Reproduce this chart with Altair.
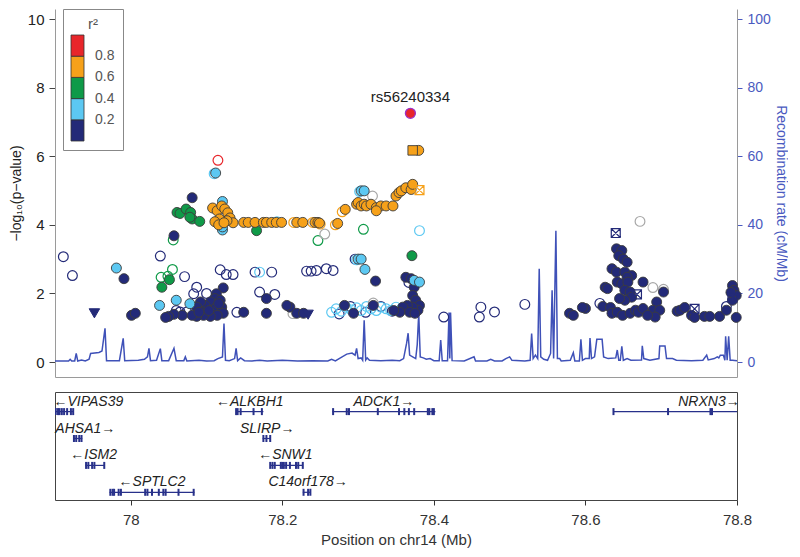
import altair as alt
import pandas as pd

# ---------------- recombination rate (position Mb, cM/Mb) ----------------
recomb = [(77.900,0.3),(77.918,0.3),(77.920,0.8),(77.922,0.3),(77.926,0.3),(77.928,2.5),(77.930,0.3),(77.935,0.6),(77.940,0.3),(77.945,0.8),(77.947,2.5),(77.958,2.8),(77.962,3.2),(77.966,9.8),(77.968,0.4),(77.985,0.4),(77.990,6.9),(77.992,0.4),(78.010,0.5),(78.018,0.8),(78.022,1.5),(78.024,4.0),(78.026,0.4),(78.034,0.5),(78.039,3.9),(78.041,0.4),(78.050,0.4),(78.057,4.0),(78.060,0.4),(78.070,0.4),(78.072,1.5),(78.074,0.3),(78.090,0.5),(78.100,0.3),(78.110,0.4),(78.115,1.0),(78.121,1.5),(78.123,11.2),(78.125,0.5),(78.130,0.4),(78.137,1.0),(78.139,4.0),(78.141,0.4),(78.145,1.2),(78.150,0.4),(78.160,0.3),(78.170,0.5),(78.180,0.3),(78.200,0.5),(78.220,0.3),(78.240,0.4),(78.260,0.3),(78.265,0.8),(78.270,0.3),(78.275,1.0),(78.285,2.3),(78.292,2.6),(78.296,2.0),(78.298,4.0),(78.300,1.0),(78.304,1.2),(78.306,0.5),(78.308,12.2),(78.310,0.6),(78.312,1.2),(78.315,0.5),(78.330,0.4),(78.345,0.5),(78.355,0.4),(78.360,1.0),(78.364,5.5),(78.366,8.4),(78.368,2.0),(78.372,1.5),(78.376,1.0),(78.378,5.0),(78.380,14.1),(78.382,1.5),(78.386,1.2),(78.390,0.8),(78.395,1.0),(78.400,0.4),(78.407,0.4),(78.409,6.4),(78.411,0.4),(78.418,0.4),(78.420,14.4),(78.421,1.0),(78.422,14.4),(78.424,0.4),(78.440,0.3),(78.453,1.5),(78.455,0.3),(78.470,0.3),(78.475,0.8),(78.480,0.3),(78.490,0.3),(78.495,1.0),(78.500,1.5),(78.503,0.5),(78.520,0.3),(78.527,0.5),(78.529,8.3),(78.531,1.0),(78.534,2.0),(78.537,1.0),(78.539,27.2),(78.541,1.5),(78.545,0.8),(78.550,0.5),(78.554,2.5),(78.556,20.9),(78.558,1.0),(78.561,38.3),(78.563,1.0),(78.566,1.0),(78.568,0.3),(78.580,0.5),(78.584,2.7),(78.586,0.3),(78.592,0.3),(78.594,6.6),(78.596,0.5),(78.600,1.0),(78.605,1.0),(78.606,7.0),(78.608,1.0),(78.612,1.5),(78.615,6.6),(78.622,6.6),(78.624,1.5),(78.630,1.0),(78.640,1.2),(78.642,3.5),(78.644,0.5),(78.646,0.5),(78.648,4.6),(78.650,0.5),(78.655,1.0),(78.660,0.5),(78.674,0.6),(78.675,4.7),(78.677,1.0),(78.685,0.5),(78.697,1.0),(78.698,4.7),(78.705,4.7),(78.707,1.0),(78.715,1.0),(78.720,0.5),(78.740,0.4),(78.755,0.5),(78.760,2.0),(78.762,0.6),(78.770,1.0),(78.774,1.5),(78.776,1.2),(78.778,2.0),(78.782,2.0),(78.784,0.5),(78.785,7.5),(78.787,0.5),(78.789,7.5),(78.791,0.5),(78.794,0.5),(78.800,0.4)]

# ---------------- SNPs: (position Mb, -log10 p) by LD group ----------------
navy_open = [(77.911,3.07),(77.923,2.52),(78.039,3.09),(78.071,2.49),(78.087,2.18),(78.083,1.99),(78.074,1.46),(78.065,1.46),(78.060,1.50),(78.118,2.69),(78.126,2.55),(78.135,2.55),(78.164,2.62),(78.186,2.62),(78.170,2.04),(78.190,1.97),(78.140,1.45),(78.232,2.65),(78.238,2.65),(78.245,2.67),(78.258,2.72),(78.267,2.67),(78.296,3.00),(78.367,2.32),(78.275,1.40),(78.290,1.62),(78.310,1.45),(78.330,1.62),(78.345,1.48),(78.413,1.31),(78.462,1.60),(78.460,1.31),(78.480,1.46),(78.520,1.68),(78.619,1.71),(78.786,1.62),(78.100,2.00),(78.095,1.55)]
lblue_open = [(78.110,5.49),(78.170,2.62),(78.193,4.09),(78.302,4.97),(78.298,2.98),(78.381,3.83),(78.271,1.55),(78.278,1.48),(78.284,1.60),(78.291,1.52),(78.298,1.58),(78.304,1.50),(78.311,1.62),(78.317,1.55),(78.324,1.50),(78.330,1.60),(78.337,1.55),(78.343,1.50),(78.350,1.60),(78.357,1.55),(78.265,1.45)]
green_open = [(78.056,3.56),(78.040,2.47),(78.049,2.50),(78.055,2.70),(78.247,3.54),(78.307,3.87)]
orange_open = [(78.215,4.07),(78.240,4.07),(78.250,4.02),(78.270,4.00),(78.279,4.38)]
red_open = [(78.115,5.88)]
gray_open = [(78.256,3.73),(78.319,4.84),(78.214,1.41),(78.672,4.10),(78.689,2.17),(78.703,2.12),(78.320,1.72)]

navy_filled = [(77.991,2.43),(78.001,1.36),(78.006,1.42),(78.057,3.68),(78.081,4.79),
    (78.122,2.16),(78.113,1.99),(78.111,1.85),(78.105,1.75),(78.098,1.65),(78.092,1.75),(78.087,1.60),(78.094,1.46),(78.100,1.42),(78.107,1.51),(78.113,1.60),(78.120,1.60),(78.122,1.42),(78.114,1.36),(78.105,1.33),(78.096,1.36),(78.087,1.33),(78.081,1.36),(78.068,1.36),(78.057,1.39),(78.050,1.33),(78.046,1.30),(78.118,1.80),(78.103,1.50),(78.116,1.70),(78.090,1.45),
    (78.179,1.85),(78.179,1.42),(78.149,1.45),(78.210,1.60),(78.219,1.42),(78.228,1.42),(78.206,1.65),
    (78.323,2.36),(78.363,2.47),(78.370,2.43),(78.374,2.18),(78.372,1.94),(78.376,1.80),(78.381,1.65),(78.379,1.51),(78.372,1.60),(78.365,1.65),(78.359,1.60),(78.368,1.45),(78.375,1.42),(78.355,1.45),(78.282,1.65),(78.294,1.42),(78.320,1.65),(78.347,1.50),
    (78.641,3.30),(78.648,3.25),(78.644,3.10),(78.650,3.00),(78.655,2.91),(78.635,2.72),(78.641,2.62),(78.652,2.62),(78.661,2.52),(78.655,2.47),(78.642,2.33),(78.648,2.28),(78.656,2.33),(78.626,2.18),(78.629,2.14),(78.676,2.33),(78.652,2.09),(78.659,2.04),(78.661,1.89),(78.652,1.80),(78.645,1.85),(78.703,2.04),(78.694,1.75),(78.689,1.51),(78.698,1.51),(78.692,1.31),
    (78.623,1.62),(78.633,1.59),(78.635,1.42),(78.642,1.45),(78.649,1.36),(78.659,1.42),(78.666,1.51),(78.670,1.45),(78.676,1.56),(78.682,1.36),
    (78.600,1.56),(78.579,1.42),(78.584,1.36),(78.596,1.59),
    (78.721,1.48),(78.725,1.51),(78.731,1.59),(78.740,1.36),(78.744,1.30),(78.757,1.33),(78.764,1.33),(78.777,1.33),(78.786,1.51),
    (78.794,2.23),(78.796,2.09),(78.799,1.94),(78.794,1.80),(78.792,2.03),(78.799,1.30)]
lblue_filled = [(77.981,2.74),(78.038,1.65),(78.060,1.80),(78.078,1.70),(78.112,5.51),(78.121,4.68),(78.121,3.85),(78.121,3.94),(78.304,4.99),(78.308,4.99),(78.300,3.00),(78.304,3.00),(78.309,2.70),(78.374,2.38),(78.381,2.33)]
green_filled = [(78.051,2.40),(78.041,2.18),(78.061,4.36),(78.065,4.33),(78.073,4.46),(78.079,4.36),(78.081,4.17),(78.091,4.10),(78.078,4.22),(78.166,3.83),(78.371,3.10)]
orange_filled = [(78.108,4.49),(78.114,4.41),(78.120,4.55),(78.124,4.46),(78.128,4.35),(78.131,4.20),(78.135,4.06),(78.127,4.12),(78.117,4.17),(78.111,4.09),(78.116,4.00),(78.123,4.06),
    (78.149,4.07),(78.155,4.07),(78.164,4.07),(78.175,4.07),(78.179,4.07),(78.186,4.07),(78.192,4.07),(78.199,4.07),
    (78.219,4.07),(78.227,4.07),(78.243,4.07),(78.247,4.07),(78.249,4.05),(78.273,4.04),(78.283,4.45),
    (78.298,4.60),(78.300,4.65),(78.304,4.55),(78.308,4.60),(78.311,4.55),(78.317,4.60),(78.324,4.50),(78.330,4.55),(78.337,4.55),(78.346,4.55),(78.324,4.41),
    (78.350,4.84),(78.354,4.94),(78.357,4.99),(78.363,5.08),(78.370,5.03),(78.372,5.18),(78.380,6.17)]
navy_triangles = [(77.952,1.42),(78.234,1.38)]
navy_xsquares = [(78.640,3.76),(78.668,1.97),(78.744,1.55),(78.794,1.88)]
orange_xsquares = [(78.381,5.01)]
orange_squares = [(78.372,6.17)]
lead_snp = [("rs56240334", 78.369, 7.25)]

# representative r2 of each colour band
R2_NAVY, R2_LBLUE, R2_GREEN, R2_ORANGE, R2_RED = 0.1, 0.3, 0.5, 0.7, 0.9

# ---------------- genes ----------------
gene_name = ["VIPAS39", "AHSA1", "ISM2", "SPTLC2", "ALKBH1", "SLIRP", "SNW1", "C14orf178", "ADCK1", "NRXN3"]
gene_start = [77.899, 77.924, 77.940, 77.972, 78.139, 78.174, 78.184, 78.227, 78.266, 78.637]
gene_end = [77.924, 77.936, 77.965, 78.084, 78.175, 78.185, 78.227, 78.237, 78.402, 78.800]
gene_strand = ["-", "+", "-", "-", "-", "+", "-", "+", "+", "+"]
gene_row = [1, 2, 3, 4, 1, 2, 3, 4, 1, 1]
gene_label_pos = [77.944, 77.940, 77.951, 78.028, 78.157, 78.180, 78.204, 78.234, 78.334, 78.763]
gene_exons = {
    "VIPAS39": [77.901, 77.904, 77.906, 77.909, 77.912, 77.916, 77.921, 77.924],
    "AHSA1": [77.925, 77.928, 77.932, 77.935],
    "ISM2": [77.941, 77.944, 77.949, 77.952, 77.965],
    "SPTLC2": [77.973, 77.976, 77.978, 77.984, 77.987, 78.019, 78.022, 78.028, 78.037, 78.043, 78.046, 78.063, 78.083],
    "ALKBH1": [78.139, 78.141, 78.145, 78.162, 78.173],
    "SLIRP": [78.175, 78.179, 78.184],
    "SNW1": [78.184, 78.187, 78.190, 78.198, 78.200, 78.202, 78.205, 78.210, 78.218, 78.221, 78.227],
    "C14orf178": [78.228, 78.234, 78.237],
    "ADCK1": [78.267, 78.285, 78.288, 78.326, 78.354, 78.361, 78.367, 78.374, 78.392, 78.394, 78.398, 78.400],
    "NRXN3": [78.637, 78.709, 78.765, 78.767],
}

# ---------------- styling ----------------
FONT = "Liberation Sans"
NAVY, LBLUE, GREEN, ORANGE, RED = "#232a78", "#5cc8f2", "#0f9a48", "#f6a11a", "#e8262b"
REC_BLUE = "#3f51b8"
AXIS_BLUE = "#4a5ac0"
GENE_BLUE = "#28318a"
FRAME_GRAY = "#9a9a9a"
XSQUARE = "M-1,-1L1,-1L1,1L-1,1Z M-1,-1L1,1 M1,-1L-1,1"

# ---------------- tables ----------------
groups = [
    ("open", navy_open, R2_NAVY), ("open", lblue_open, R2_LBLUE), ("open", green_open, R2_GREEN),
    ("open", orange_open, R2_ORANGE), ("open", red_open, R2_RED), ("gray", gray_open, None),
    ("filled", navy_filled, R2_NAVY), ("filled", lblue_filled, R2_LBLUE), ("filled", green_filled, R2_GREEN),
    ("filled", orange_filled, R2_ORANGE), ("tri", navy_triangles, R2_NAVY), ("xsq", navy_xsquares, R2_NAVY),
    ("xsq", orange_xsquares, R2_ORANGE), ("sq", orange_squares, R2_ORANGE),
]
rows = []
for style, pts, r2 in groups:
    for p, lp in pts:
        rows.append({"pos": p, "logp": lp, "r2": r2, "style": style})
snps = pd.DataFrame(rows)
lead = pd.DataFrame([{"name": n, "pos": p, "logp": lp, "r2": 1.0} for n, p, lp in lead_snp])
rec = pd.DataFrame(recomb, columns=["pos", "rate"])

genes = pd.DataFrame({
    "name": gene_name, "start": gene_start, "end": gene_end, "strand": gene_strand,
    "row": gene_row, "label_pos": gene_label_pos,
})
genes["label"] = [("\u2190" + n) if s == "-" else (n + "\u2192") for n, s in zip(gene_name, gene_strand)]
row_of = dict(zip(gene_name, gene_row))
exons = pd.DataFrame([{"pos": e, "row": row_of[g]} for g, es in gene_exons.items() for e in es])

# ---------------- scales / axes ----------------
xscale = alt.Scale(domain=[77.9, 78.8], nice=False, zero=False)
yscale = alt.Scale(domain=[-0.437, 10.292], nice=False, zero=False)
rscale = alt.Scale(domain=[-4.37, 102.92], nice=False, zero=False)
cscale = alt.Scale(type="threshold", domain=[0.2, 0.4, 0.6, 0.8], range=[NAVY, LBLUE, GREEN, ORANGE, RED])

left_axis = alt.Axis(values=[0, 2, 4, 6, 8, 10], title="\u2212log\u2081\u2080(p\u2212value)", grid=False,
                     domainColor=FRAME_GRAY, tickColor="#444", tickSize=6, labelFontSize=15,
                     labelColor="#222", labelPadding=5, titleFontSize=14, titleFontWeight="normal",
                     titleColor="#222", titlePadding=4, labelFlush=False)
right_axis = alt.Axis(orient="right", values=[0, 20, 40, 60, 80, 100], title="Recombination rate (cM/Mb)",
                      grid=False, domainColor=FRAME_GRAY, tickColor=AXIS_BLUE, tickSize=5,
                      labelColor=AXIS_BLUE, labelFontSize=14, labelPadding=5, titleColor=AXIS_BLUE,
                      titleFontSize=14, titleFontWeight="normal", titlePadding=3, labelFlush=False)
top_xaxis = alt.Axis(domain=True, domainColor=FRAME_GRAY, ticks=False, labels=False, title=None, grid=False)
gene_xaxis = alt.Axis(values=[78.0, 78.2, 78.4, 78.6, 78.8], format=".1~f", domain=False, grid=False,
                      tickColor="#333", tickSize=5, labelFontSize=15, labelColor="#333", labelPadding=7,
                      labelFlush=False, title="Position on chr14 (Mb)", titleFontSize=15,
                      titleFontWeight="normal", titleColor="#333", titlePadding=5)
legend = alt.Legend(type="gradient", title="r\u00b2", orient="none", legendX=8, legendY=0,
                    direction="vertical", gradientLength=106, gradientThickness=13, labelOffset=11,
                    format=".1f", padding=8, strokeColor="#888", fillColor="white", titleAnchor="middle",
                    titleFontSize=15, titleFontWeight="normal", titleColor="#555", titlePadding=3,
                    labelFontSize=14, labelColor="#555", gradientStrokeColor="#333",
                    gradientStrokeWidth=0.8, labelOverlap=False)

# ---------------- top panel ----------------
rec_line = alt.Chart(rec).mark_line(color=REC_BLUE, strokeWidth=1.5).encode(
    x=alt.X("pos:Q", scale=xscale, axis=top_xaxis),
    y=alt.Y("rate:Q", scale=rscale, axis=right_axis),
)

base = alt.Chart(snps).encode(
    x=alt.X("pos:Q", scale=xscale, axis=top_xaxis),
    y=alt.Y("logp:Q", scale=yscale, axis=left_axis),
)
col = alt.Color("r2:Q", scale=cscale, legend=legend)

open_pts = base.transform_filter(alt.datum.style == "open").mark_point(
    shape="circle", filled=False, size=95, strokeWidth=1.2, opacity=1).encode(color=col)
gray_pts = base.transform_filter(alt.datum.style == "gray").mark_point(
    shape="circle", filled=False, size=95, strokeWidth=1.2, opacity=1, color="#a8a8a8")
filled_pts = base.transform_filter(alt.datum.style == "filled").mark_point(
    shape="circle", filled=True, size=100, stroke="#3c3c3c", strokeWidth=0.9, opacity=1).encode(color=col)
tri_pts = base.transform_filter(alt.datum.style == "tri").mark_point(
    shape="triangle-down", filled=True, size=110, stroke=NAVY, strokeWidth=1, opacity=1).encode(color=col)
xsq_pts = base.transform_filter(alt.datum.style == "xsq").mark_point(
    shape=XSQUARE, filled=False, size=80, strokeWidth=1.2, opacity=1).encode(color=col)
sq_pts = base.transform_filter(alt.datum.style == "sq").mark_point(
    shape="square", filled=True, size=90, stroke="#3c3c3c", strokeWidth=0.9, opacity=1).encode(color=col)

lead_base = alt.Chart(lead).encode(
    x=alt.X("pos:Q", scale=xscale, axis=top_xaxis),
    y=alt.Y("logp:Q", scale=yscale, axis=left_axis),
)
lead_pt = lead_base.mark_point(shape="circle", filled=True, size=100, stroke="#9b30c8",
                               strokeWidth=1.3, opacity=1).encode(color=col)
lead_txt = lead_base.mark_text(dy=-16, fontSize=15, color="#222").encode(text="name:N")

points = alt.layer(open_pts, gray_pts, filled_pts, tri_pts, xsq_pts, sq_pts, lead_pt, lead_txt)
top = alt.layer(rec_line, points).resolve_scale(y="independent").properties(width=682, height=368)

# ---------------- gene panel ----------------
gy = alt.Y("row:Q", scale=alt.Scale(domain=[0.271, 4.286], reverse=True, nice=False, zero=False), axis=None)

gene_lines = alt.Chart(genes).mark_rule(color=GENE_BLUE, strokeWidth=1.2, clip=True).encode(
    x=alt.X("start:Q", scale=xscale, axis=gene_xaxis), x2="end:Q", y=gy)
exon_ticks = alt.Chart(exons).mark_tick(orient="vertical", size=7, thickness=2, color=GENE_BLUE,
                                        opacity=1, clip=True).encode(
    x=alt.X("pos:Q", scale=xscale, axis=gene_xaxis), y=gy)
gene_labels = alt.Chart(genes).mark_text(fontStyle="italic", fontSize=14, dy=-10, color="#222").encode(
    x=alt.X("label_pos:Q", scale=xscale, axis=gene_xaxis), y=gy, text="label:N")

gene_panel = alt.layer(gene_lines, exon_ticks, gene_labels).properties(
    width=682, height=108, view=alt.ViewBackground(stroke="#444", strokeWidth=1))

chart = alt.vconcat(top, gene_panel, spacing=13).resolve_scale(color="independent").resolve_legend(
    color="independent").properties(
    padding={"left": 0, "top": 0, "right": 0, "bottom": 0}
).configure(font=FONT).configure_view(stroke="transparent")

chart.save("out.html", embed_options={"renderer": "svg", "actions": False})
